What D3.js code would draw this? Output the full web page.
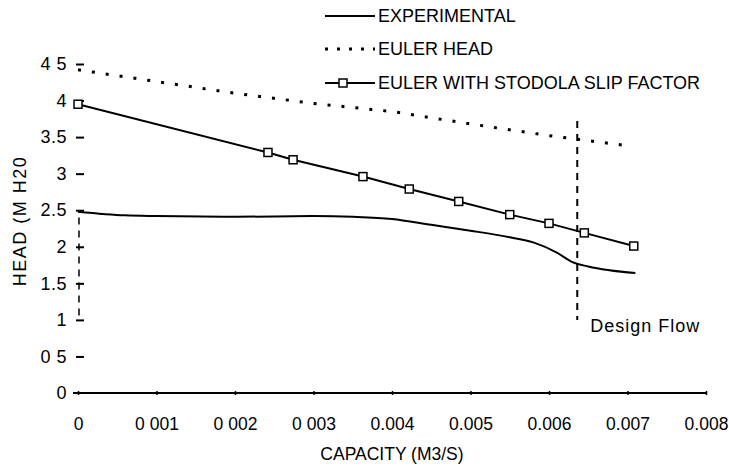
<!DOCTYPE html>
<html>
<head>
<meta charset="utf-8">
<script src="https://cdn.jsdelivr.net/npm/d3@7"></script>
<style>
  body { margin: 0; background: #fff; }
  svg text { font-family: "Liberation Sans", Arial, sans-serif; fill: #000; }
</style>
</head>
<body>
<svg class="graph" width="729" height="466"></svg>
<script>
// data
var expCapacity = [0, 0.0006, 0.001, 0.002, 0.003, 0.0035, 0.004, 0.0045, 0.005, 0.0055, 0.0058, 0.0061, 0.0063, 0.0065, 0.0071];
var expHead = [2.48, 2.43, 2.42, 2.41, 2.42, 2.41, 2.38, 2.30, 2.22, 2.13, 2.06, 1.92, 1.79, 1.73, 1.64];

var eulerCapacity = [0, 0.001, 0.002, 0.003, 0.004, 0.005, 0.006, 0.00702];
var eulerHead = [4.42, 4.26, 4.10, 3.96, 3.85, 3.68, 3.52, 3.38];

var slipCapacity = [0, 0.00242, 0.00274, 0.00363, 0.00422, 0.00485, 0.0055, 0.006, 0.00645, 0.00708];
var slipHead = [3.95, 3.29, 3.19, 2.96, 2.79, 2.62, 2.44, 2.32, 2.19, 2.01];

var designFlow = 0.00636;

var xTicks = [0, 0.001, 0.002, 0.003, 0.004, 0.005, 0.006, 0.007, 0.008];
var xTickLabels = ["0", "0 001", "0 002", "0 003", "0.004", "0.005", "0.006", "0.007", "0.008"];
var yTicks = [0, 0.5, 1, 1.5, 2, 2.5, 3, 3.5, 4, 4.5];
var yTickLabels = ["0", "0 5", "1", "1.5", "2", "2.5", "3", "3.5", "4", "4 5"];

var legendNames = ["EXPERIMENTAL", "EULER HEAD", "EULER WITH STODOLA SLIP FACTOR"];

var svg = d3.select(".graph");

var x = d3.scaleLinear().domain([0, 0.008]).range([78, 706]);
var y = d3.scaleLinear().domain([0, 4.5]).range([393, 64]);

function pairs(xs, ys) {
  return xs.map(function (d, i) { return [d, ys[i]]; });
}

// x axis
var xAxis = d3.axisBottom(x)
  .tickValues(xTicks)
  .tickSize(3)
  .tickPadding(22)
  .tickFormat(function (d, i) { return xTickLabels[i]; });

var gx = svg.append("g")
  .attr("transform", "translate(0," + y(0) + ")")
  .call(xAxis);
gx.select(".domain").attr("d", "M73,0H706").attr("stroke", "#000").attr("stroke-width", 2);
gx.selectAll(".tick line").attr("y1", -2).attr("y2", 2).attr("stroke-width", 1.5);
gx.selectAll(".tick text")
  .attr("font-size", 17.5)
  .attr("font-family", "Liberation Sans, Arial, sans-serif");

// y axis, ticks only
var yAxis = d3.axisLeft(y)
  .tickValues(yTicks)
  .tickSize(0)
  .tickPadding(12)
  .tickFormat(function (d, i) { return yTickLabels[i]; });

var gy = svg.append("g")
  .attr("transform", "translate(79,0)")
  .call(yAxis);
gy.select(".domain").remove();
gy.selectAll(".tick line")
  .attr("x1", -3).attr("x2", 5)
  .attr("stroke", "#000").attr("stroke-width", 2);
gy.selectAll(".tick")
  .filter(function (d) { return d === 0; })
  .select("line").remove();
gy.selectAll(".tick text")
  .attr("font-size", 18)
  .attr("letter-spacing", 0.5)
  .attr("font-family", "Liberation Sans, Arial, sans-serif");

svg.append("text")
  .attr("transform", "translate(26,221) rotate(-90)")
  .attr("text-anchor", "middle")
  .attr("font-size", 18)
  .attr("letter-spacing", 1.5)
  .text("HEAD (M H20");

svg.append("text")
  .attr("x", 392)
  .attr("y", 460)
  .attr("text-anchor", "middle")
  .attr("font-size", 17.5)
  .text("CAPACITY (M3/S)");

// dashed verticals
svg.append("line")
  .attr("x1", x(0) + 1).attr("x2", x(0) + 1)
  .attr("y1", y(2.4)).attr("y2", y(1.0))
  .attr("stroke", "#000").attr("stroke-width", 1.5)
  .attr("stroke-dasharray", "7,6");

svg.append("line")
  .attr("x1", x(designFlow)).attr("x2", x(designFlow))
  .attr("y1", y(3.72)).attr("y2", y(1.0))
  .attr("stroke", "#000").attr("stroke-width", 2)
  .attr("stroke-dasharray", "7,6");

svg.append("text")
  .attr("x", x(designFlow) + 13)
  .attr("y", 332)
  .attr("font-size", 18)
  .attr("letter-spacing", 1)
  .text("Design Flow");

// series
var line = d3.line()
  .x(function (d) { return x(d[0]); })
  .y(function (d) { return y(d[1]); });

svg.append("path")
  .datum(pairs(expCapacity, expHead))
  .attr("fill", "none")
  .attr("stroke", "#000")
  .attr("stroke-width", 2)
  .attr("d", line.curve(d3.curveMonotoneX));

svg.append("path")
  .datum(pairs(eulerCapacity, eulerHead))
  .attr("fill", "none")
  .attr("stroke", "#000")
  .attr("stroke-width", 3)
  .attr("stroke-dasharray", "3,11")
  .attr("d", line.curve(d3.curveLinear));

var slip = pairs(slipCapacity, slipHead);
svg.append("path")
  .datum(slip)
  .attr("fill", "none")
  .attr("stroke", "#000")
  .attr("stroke-width", 2)
  .attr("d", line.curve(d3.curveLinear));

svg.append("g")
  .selectAll("rect")
  .data(slip)
  .enter().append("rect")
  .attr("x", function (d) { return x(d[0]) - 4; })
  .attr("y", function (d) { return y(d[1]) - 4; })
  .attr("width", 8)
  .attr("height", 8)
  .attr("fill", "#fff")
  .attr("stroke", "#000")
  .attr("stroke-width", 1.5);

// legend
var legend = svg.append("g").attr("transform", "translate(325,0)");
var rows = legend.selectAll("g")
  .data(legendNames)
  .enter().append("g")
  .attr("transform", function (d, i) { return "translate(0," + [16, 49, 83][i] + ")"; });

rows.append("line")
  .attr("x1", 0).attr("x2", 50)
  .attr("stroke", "#000")
  .attr("stroke-width", function (d, i) { return i === 1 ? 3 : 2; })
  .attr("stroke-dasharray", function (d, i) { return i === 1 ? "3,9" : null; });

rows.filter(function (d, i) { return i === 2; })
  .append("rect")
  .attr("x", 14).attr("y", -4)
  .attr("width", 8).attr("height", 8)
  .attr("fill", "#fff").attr("stroke", "#000").attr("stroke-width", 1.5);

rows.append("text")
  .attr("x", 53)
  .attr("dy", "0.36em")
  .attr("font-size", 18)
  .text(function (d) { return d; });
</script>
</body>
</html>
